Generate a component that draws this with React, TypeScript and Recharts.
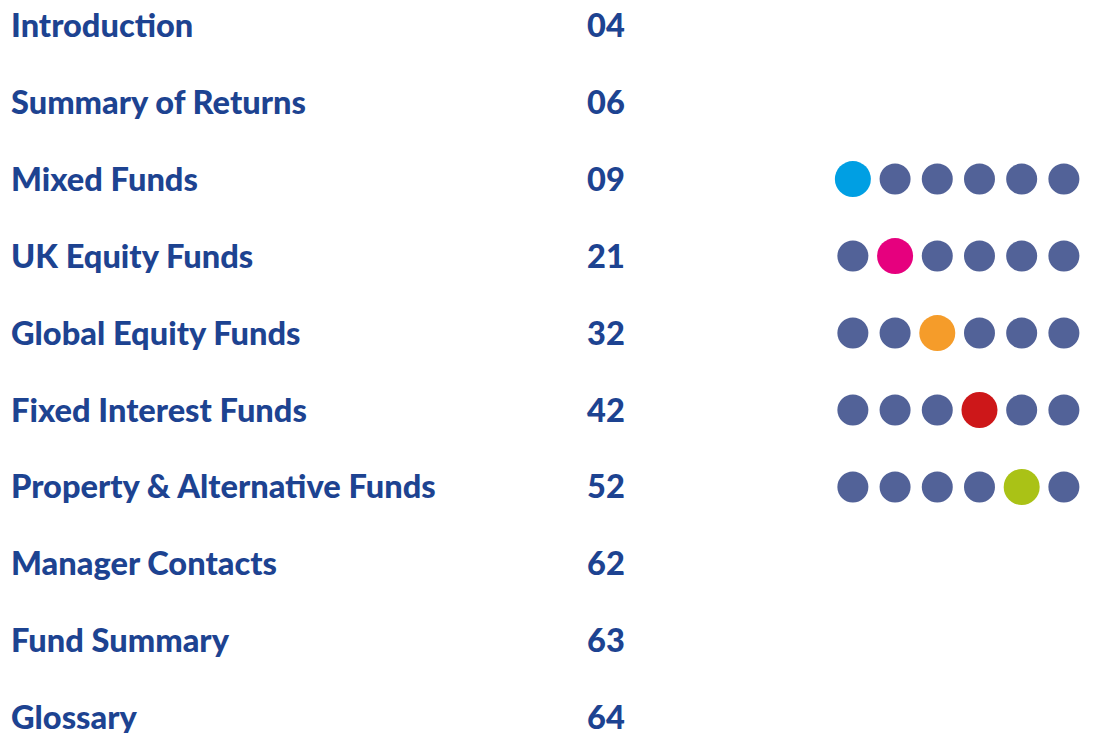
import { ScatterChart, Scatter, XAxis, YAxis } from 'recharts';

const sections = [
  'Introduction',
  'Summary of Returns',
  'Mixed Funds',
  'UK Equity Funds',
  'Global Equity Funds',
  'Fixed Interest Funds',
  'Property & Alternative Funds',
  'Manager Contacts',
  'Fund Summary',
  'Glossary',
];
const pages = ['04', '06', '09', '21', '32', '42', '52', '62', '63', '64'];

// rows that carry a dot strip, and which dot is lit on each
const dotRows = [2, 3, 4, 5, 6];
const litColumn = [0, 1, 2, 3, 4];
const litColors = ['#009fe3', '#e6007e', '#f59c2a', '#cd1719', '#aac216'];
const dotColumns = [0, 1, 2, 3, 4, 5];

const TEXT = '#1d4391';
const DOT = '#526298';

const dots = dotRows.flatMap((row, i) =>
  dotColumns.map((col) => ({
    col,
    row,
    lit: col === litColumn[i],
    color: col === litColumn[i] ? litColors[i] : DOT,
  }))
);

const rows = sections.map((name, i) => ({ col: 0, row: i, name, page: pages[i] }));

const RowLabel = (props: any) => {
  const { cy, payload } = props;
  return (
    <g>
      <text x={11} y={cy + 11.5} fill={TEXT} fontSize={32.6} fontWeight={900} fontFamily="Lato" textAnchor="start">
        {payload.name}
      </text>
      <text x={587} y={cy + 11.5} fill={TEXT} fontSize={32.6} fontWeight={900} fontFamily="Lato" textAnchor="start">
        {payload.page}
      </text>
    </g>
  );
};

const Dot = (props: any) => {
  const { cx, cy, payload } = props;
  return <circle cx={cx} cy={cy} r={payload.lit ? 18 : 15.5} fill={payload.color} />;
};

export default function App() {
  return (
    <div style={{ position: 'absolute', left: 0, top: 0, background: '#fff' }}>
      <ScatterChart width={1093} height={733} margin={{ top: 0, right: 0, bottom: 0, left: 0 }}>
        <XAxis type="number" dataKey="col" domain={[-20.21, 5.69]} hide />
        <YAxis type="number" dataKey="row" domain={[-0.325, 9.195]} reversed hide allowDataOverflow />
        <Scatter data={rows} shape={<RowLabel />} isAnimationActive={false} />
        <Scatter data={dots} shape={<Dot />} isAnimationActive={false} />
      </ScatterChart>
    </div>
  );
}
